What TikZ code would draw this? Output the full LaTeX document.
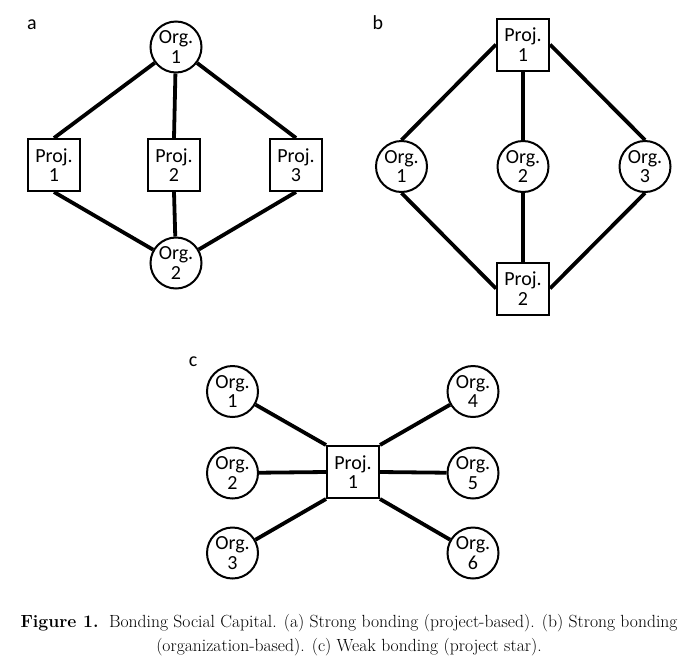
\documentclass[tikz,border=0pt]{standalone}
\usepackage{fontspec}
\usepackage{tikz}
\newfontfamily\nodefont{Carlito}
\usetikzlibrary{positioning}
\tikzset{
  org/.style={circle, draw, line width=2pt, minimum size=51pt, inner sep=0pt, align=center,
    font={\nodefont\fontsize{20}{19.5}\selectfont}},
  proj/.style={rectangle, draw, line width=2pt, minimum size=52pt, inner sep=0pt, align=center,
    font={\nodefont\fontsize{20}{19.5}\selectfont}},
  link/.style={line width=3.8pt},
  panel/.style={font={\nodefont\fontsize{20}{20}\selectfont}}
}

\begin{document}
\begin{tikzpicture}[x=1pt, y=-1pt]
  \useasboundingbox (0, 0) rectangle (691, 665);

  % (a) project-based
  \node[panel] (la) at (32, 25) {a};
  \node[org] (oa1) at (176, 47) {Org.\\1};
  \node[proj] (pa1) at (54, 165) {Proj.\\1};
  \node[proj] (pa2) at (174, 165) {Proj.\\2};
  \node[proj] (pa3) at (296, 165) {Proj.\\3};
  \node[org] (oa2) at (176, 263) {Org.\\2};
  \draw[link] (oa1) -- (pa1.north);
  \draw[link] (oa1) -- (pa2.north);
  \draw[link] (oa1) -- (pa3.north);
  \draw[link] (pa1.south) -- (oa2);
  \draw[link] (pa2.south) -- (oa2);
  \draw[link] (pa3.south) -- (oa2);

  % (b) organization-based
  \node[panel] (lb) at (378, 23) {b};
  \node[proj] (pb1) at (523, 44.5) {Proj.\\1};
  \node[org] (ob1) at (401.5, 166.5) {Org.\\1};
  \node[org] (ob2) at (523, 166.5) {Org.\\2};
  \node[org] (ob3) at (645, 166.5) {Org.\\3};
  \node[proj] (pb2) at (523, 288.5) {Proj.\\2};
  \draw[link] (pb1.west) -- (ob1.north);
  \draw[link] (pb1) -- (ob2);
  \draw[link] (pb1.east) -- (ob3.north);
  \draw[link] (ob1.south) -- (pb2.west);
  \draw[link] (ob2) -- (pb2);
  \draw[link] (ob3.south) -- (pb2.east);

  % (c) project star
  \node[panel] (lc) at (193, 362) {c};
  \node[proj] (pc1) at (353, 472) {Proj.\\1};
  \node[org] (oc1) at (232.5, 391.5) {Org.\\1};
  \node[org] (oc2) at (232.5, 473) {Org.\\2};
  \node[org] (oc3) at (232.5, 553) {Org.\\3};
  \node[org] (oc4) at (473, 391.5) {Org.\\4};
  \node[org] (oc5) at (473, 473) {Org.\\5};
  \node[org] (oc6) at (473, 553) {Org.\\6};
  \draw[link] (oc1) -- (pc1.north west);
  \draw[link] (oc2) -- (pc1.west);
  \draw[link] (oc3) -- (pc1.south west);
  \draw[link] (oc4) -- (pc1.north east);
  \draw[link] (oc5) -- (pc1.east);
  \draw[link] (oc6) -- (pc1.south east);

  \node[align=center, font={\fontsize{17.6}{24}\selectfont}] (cap) at (349, 635)
    {\textbf{Figure 1.}\ \ Bonding Social Capital. (a) Strong bonding (project-based). (b) Strong bonding\\
     (organization-based). (c) Weak bonding (project star).};
\end{tikzpicture}
\end{document}
